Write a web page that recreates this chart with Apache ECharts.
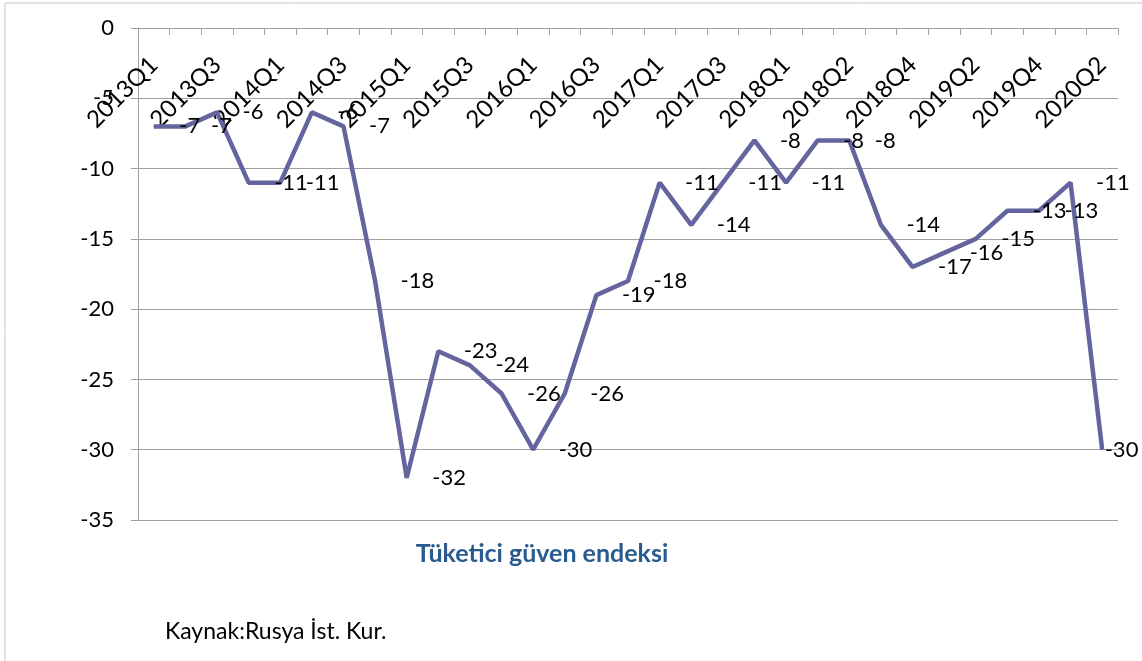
<!DOCTYPE html>
<html>
<head>
<meta charset="utf-8">
<script src="https://cdn.jsdelivr.net/npm/echarts@6/dist/echarts.min.js"></script>
<style>
  html, body { margin: 0; padding: 0; background: #fff; }
  #chart { width: 1142px; height: 661px; }
</style>
</head>
<body>
<div id="chart"></div>
<script>
// quarters (index 21 is an extra point between 2018Q1 and 2018Q2, its label is hidden)
var quarters = [
  '2013Q1', '2013Q2', '2013Q3', '2013Q4', '2014Q1', '2014Q2', '2014Q3', '2014Q4',
  '2015Q1', '2015Q2', '2015Q3', '2015Q4', '2016Q1', '2016Q2', '2016Q3', '2016Q4',
  '2017Q1', '2017Q2', '2017Q3', '2017Q4', '2018Q1', '2018', '2018Q2', '2018Q3',
  '2018Q4', '2019Q1', '2019Q2', '2019Q3', '2019Q4', '2020Q1', '2020Q2'
];
var guvenEndeksi = [
  -7, -7, -6, -11, -11, -6, -7, -18, -32, -23, -24, -26, -30, -26, -19, -18,
  -11, -14, -11, -8, -11, -8, -8, -14, -17, -16, -15, -13, -13, -11, -30
];
var yTicks = [0, -5, -10, -15, -20, -25, -30, -35];

var fontFam = 'Lato, "Open Sans", sans-serif';
var lineColor = '#64649e';

var seriesData = guvenEndeksi.map(function (v, i) {
  var item = { value: v };
  // last label is pushed back inside the chart
  if (i === guvenEndeksi.length - 1) item.label = { distance: 2 };
  return item;
});

var myChart = echarts.init(document.getElementById('chart'));
var option = {
  animation: false,
  textStyle: { fontFamily: fontFam },
  title: {
    text: 'Tüketici güven endeksi',
    left: 537,
    top: 536,
    textAlign: 'center',
    textStyle: { fontFamily: fontFam, fontSize: 25, fontWeight: 'bold', color: '#2a5b8f' }
  },
  graphic: [
    {
      type: 'rect',
      shape: { x: 5, y: 3, width: 1200, height: 700 },
      style: { fill: null, stroke: '#c4c4c4', lineWidth: 1 },
      silent: true
    },
    {
      type: 'text',
      left: 165,
      top: 620,
      style: { text: 'Kaynak:Rusya İst. Kur.', font: '23px ' + fontFam, fill: '#000' }
    }
  ],
  grid: { left: 138, right: 24, top: 28, bottom: 141, containLabel: false },
  xAxis: {
    type: 'category',
    position: 'top',
    data: quarters,
    boundaryGap: true,
    axisLine: { lineStyle: { color: '#a0a0a0', width: 1 } },
    axisTick: { show: true, inside: true, interval: 0, length: 7, lineStyle: { color: '#a0a0a0' } },
    axisLabel: {
      inside: true,
      interval: 1,
      rotate: 45,
      margin: 33,
      fontSize: 24,
      fontFamily: fontFam,
      color: '#000'
    },
    splitLine: { show: false }
  },
  yAxis: {
    type: 'value',
    min: -35,
    max: 0,
    interval: 5,
    axisLine: { show: true, lineStyle: { color: '#a0a0a0', width: 1 } },
    axisTick: { show: true, length: 7, lineStyle: { color: '#a0a0a0' } },
    axisLabel: { margin: 24, fontSize: 22, fontFamily: fontFam, color: '#000' },
    splitLine: { lineStyle: { color: '#a0a0a0', width: 1 } }
  },
  series: [{
    type: 'line',
    data: seriesData,
    showSymbol: true,
    showAllSymbol: true,
    symbol: 'circle',
    symbolSize: 1,
    itemStyle: { color: lineColor },
    lineStyle: { color: lineColor, width: 4.5 },
    label: {
      show: true,
      position: 'right',
      distance: 25,
      fontSize: 22,
      fontFamily: fontFam,
      color: '#000'
    }
  }]
};
myChart.setOption(option);
</script>
</body>
</html>
